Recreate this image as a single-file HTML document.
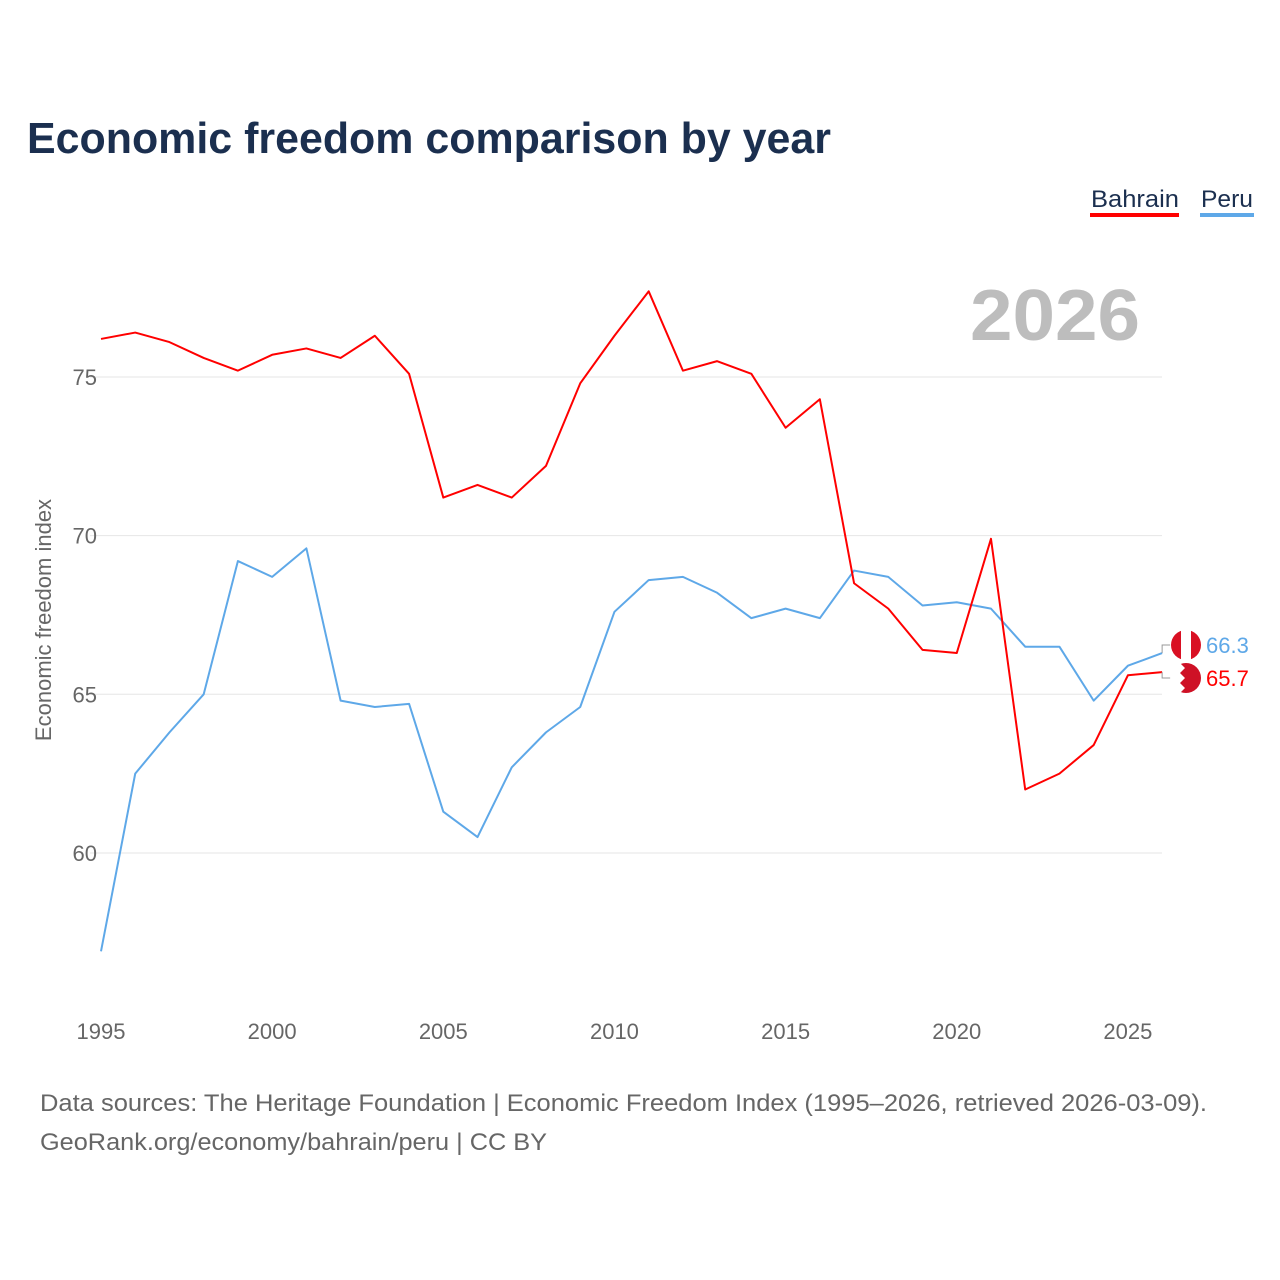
<!DOCTYPE html>
<html><head><meta charset="utf-8"><style>
body{margin:0;background:#fff;font-family:"Liberation Sans",sans-serif;}
#wrap{position:relative;width:1280px;height:1280px;overflow:hidden;}
</style></head><body>
<div id="wrap">
<svg id="chart" width="1280" height="1280">
<text x="27" y="153" font-size="44" font-weight="bold" fill="#1b2f4f" textLength="804" lengthAdjust="spacingAndGlyphs">Economic freedom comparison by year</text>
<g><text x="1091" y="207" font-size="24" fill="#1b2f4f" textLength="88" lengthAdjust="spacingAndGlyphs">Bahrain</text><rect x="1090" y="213" width="89" height="4" fill="#ff0000"/></g>
<g><text x="1201" y="207" font-size="24" fill="#1b2f4f" textLength="52" lengthAdjust="spacingAndGlyphs">Peru</text><rect x="1200" y="213" width="54" height="4" fill="#5ea8e8"/></g>
<text x="970" y="340" font-size="72" font-weight="bold" fill="#bdbdbd" textLength="170" lengthAdjust="spacingAndGlyphs">2026</text>
<text transform="translate(51,620) rotate(-90)" font-size="22" fill="#666" text-anchor="middle">Economic freedom index</text>
<g id="grid"></g><g id="lines"></g><g id="ends"></g>
<text x="40" y="1111" font-size="24" fill="#666" textLength="1167" lengthAdjust="spacingAndGlyphs">Data sources: The Heritage Foundation | Economic Freedom Index (1995–2026, retrieved 2026-03-09).</text>
<text x="40" y="1150" font-size="24" fill="#666" textLength="507" lengthAdjust="spacingAndGlyphs">GeoRank.org/economy/bahrain/peru | CC BY</text>
</svg></div>
<script>
const years=[1995,1996,1997,1998,1999,2000,2001,2002,2003,2004,2005,2006,2007,2008,2009,2010,2011,2012,2013,2014,2015,2016,2017,2018,2019,2020,2021,2022,2023,2024,2025,2026];
const bahrain=[76.2,76.4,76.1,75.6,75.2,75.7,75.9,75.6,76.3,75.1,71.2,71.6,71.2,72.2,74.8,76.3,77.7,75.2,75.5,75.1,73.4,74.3,68.5,67.7,66.4,66.3,69.9,62.0,62.5,63.4,65.6,65.7];
const peru=[56.9,62.5,63.8,65.0,69.2,68.7,69.6,64.8,64.6,64.7,61.3,60.5,62.7,63.8,64.6,67.6,68.6,68.7,68.2,67.4,67.7,67.4,68.9,68.7,67.8,67.9,67.7,66.5,66.5,64.8,65.9,66.3];
const yTicks=[60,65,70,75];
const xTicks=[1995,2000,2005,2010,2015,2020,2025];
const NS="http://www.w3.org/2000/svg";
const X=y=>101+(y-1995)*34.23;
const Y=v=>377+(75-v)*31.73;
function mk(t,a,p){const e=document.createElementNS(NS,t);for(const k in a)e.setAttribute(k,a[k]);p.appendChild(e);return e;}
const grid=document.getElementById('grid');
yTicks.forEach(v=>{
 const l=mk('line',{x1:90,x2:1162,y1:Y(v),y2:Y(v),stroke:'#e6e6e6','stroke-width':1},grid);
 
 
 const t=mk('text',{x:97,y:Y(v)+8,'font-size':22,fill:'#666','text-anchor':'end'},grid);t.textContent=v;
 
 
});
xTicks.forEach(v=>{
 const t=mk('text',{x:X(v),y:1039,'font-size':22,fill:'#666','text-anchor':'middle'},grid);t.textContent=v;
 
 
});
const lines=document.getElementById('lines');
[[peru,'#5ea8e8','peru-line'],[bahrain,'#ff0000','bahrain-line']].forEach(([d,c,n])=>{
 const p=mk('polyline',{points:d.map((v,i)=>X(years[i])+','+Y(v)).join(' '),fill:'none',stroke:c,'stroke-width':2,'stroke-linejoin':'round'},lines);
 
 
});
const ends=document.getElementById('ends');
const lx=X(2026);
function endLabel(v,c,yy,name,flag){
 mk('polyline',{points:`${lx},${Y(v)} ${lx},${yy} ${lx+8},${yy}`,fill:'none',stroke:'#999','stroke-width':1},ends);
 const g=mk('g',{},ends);
 
 
 flag(g,1186,yy);
 const t=mk('text',{x:1206,y:yy+8,'font-size':22,fill:c},ends);t.textContent=v.toFixed(1);
 
 
}
endLabel(peru[peru.length-1],'#5ea8e8',645,'peru',(g,cx,cy)=>{
 mk('circle',{cx,cy,r:15,fill:'#d91023'},g);
 mk('rect',{x:cx-5,y:cy-15,width:10,height:30,fill:'#fff'},g);
});
endLabel(bahrain[bahrain.length-1],'#ff0000',678,'bahrain',(g,cx,cy)=>{
 mk('circle',{cx,cy,r:15,fill:'#ce1126'},g);
 mk('path',{d:`M${cx-15},${cy-15} L${cx-6},${cy-15} L${cx-1},${cy-10} L${cx-6},${cy-5} L${cx-1},${cy} L${cx-6},${cy+5} L${cx-1},${cy+10} L${cx-6},${cy+15} L${cx-15},${cy+15}Z`,fill:'#fff'},g);
});
</script>
</body></html>
